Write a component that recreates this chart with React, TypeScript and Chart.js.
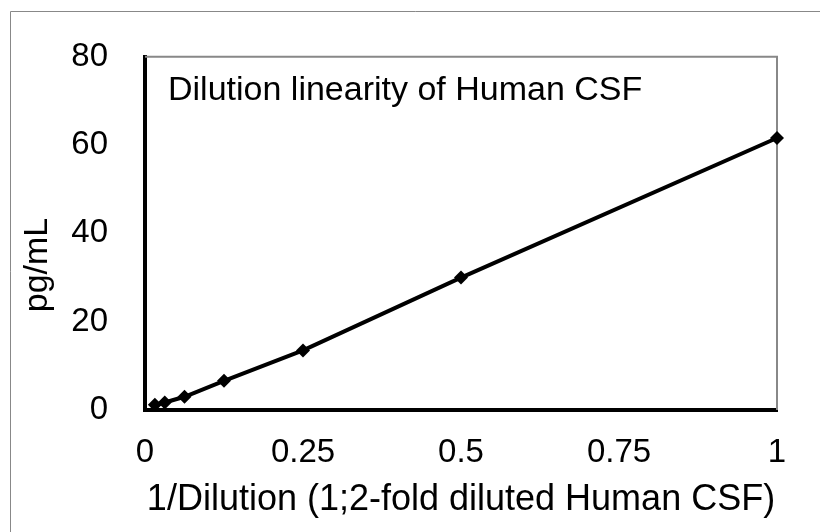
import React, { useEffect, useRef } from "react";
import { Chart, registerables } from "chart.js";

Chart.register(...registerables);

const dilutionX = [1, 0.5, 0.25, 0.125, 0.0625, 0.03125, 0.015625];
const measuredPgMl = [61.6, 30.0, 13.5, 6.6, 3.0, 1.7, 1.2];
const xTickValues = [0, 0.25, 0.5, 0.75, 1];
const yTickValues = [0, 20, 40, 60, 80];
const chartTitle = "Dilution linearity of Human CSF";
const xAxisTitle = "1/Dilution (1;2-fold diluted Human CSF)";
const yAxisTitle = "pg/mL";

const FONT = "'Liberation Sans', Arial, sans-serif";
const TICK_FS = 33;

const framePlugin = {
  id: "frame",
  beforeDatasetsDraw(chart: any) {
    const { ctx, chartArea } = chart;
    ctx.save();
    // outer chart frame (left & top visible)
    ctx.strokeStyle = "#888888";
    ctx.lineWidth = 1;
    ctx.beginPath();
    ctx.moveTo(10.5, 532);
    ctx.lineTo(10.5, 11.5);
    ctx.lineTo(820, 11.5);
    ctx.stroke();
    // plot area top/right border
    ctx.lineWidth = 2;
    ctx.beginPath();
    ctx.moveTo(chartArea.left, chartArea.top);
    ctx.lineTo(chartArea.right, chartArea.top);
    ctx.lineTo(chartArea.right, chartArea.bottom);
    ctx.stroke();
    // inner title
    ctx.fillStyle = "#000";
    ctx.font = `34px ${FONT}`;
    ctx.textAlign = "left";
    ctx.textBaseline = "alphabetic";
    ctx.fillText(chartTitle, chartArea.left + 23, 100);
    // y axis title
    ctx.font = `34px ${FONT}`;
    ctx.translate(47, 265);
    ctx.rotate(-Math.PI / 2);
    ctx.textAlign = "center";
    ctx.fillText(yAxisTitle, 0, 0);
    ctx.restore();
  },
};

export default function App() {
  const ref = useRef<HTMLCanvasElement | null>(null);
  useEffect(() => {
    if (!ref.current) return;
    const chart = new Chart(ref.current, {
      type: "line",
      data: {
        datasets: [
          {
            data: dilutionX.map((x, i) => ({ x, y: measuredPgMl[i] })),
            borderColor: "#000",
            backgroundColor: "#000",
            borderWidth: 4,
            pointStyle: "rectRot",
            pointRadius: 7,
            pointBorderWidth: 0,
            pointBackgroundColor: "#000",
            tension: 0,
            clip: false as any,
          },
        ],
      },
      options: {
        animation: false,
        responsive: false,
        devicePixelRatio: 1,
        events: [],
        layout: { padding: { top: 52, right: 43, left: 0, bottom: 0 } },
        plugins: { legend: { display: false }, tooltip: { enabled: false } },
        scales: {
          x: {
            type: "linear",
            min: 0,
            max: 1,
            afterBuildTicks: (s: any) => {
              s.ticks = xTickValues.map((v) => ({ value: v }));
            },
            afterFit: (s: any) => {
              s.height = 122;
            },
            grid: { display: false, drawTicks: false },
            border: { display: true, color: "#000", width: 4 },
            ticks: {
              color: "#000",
              font: { family: FONT, size: TICK_FS },
              padding: 23,
              maxRotation: 0,
              autoSkip: false,
              callback: (v: any) => String(v),
            },
            title: {
              display: true,
              text: xAxisTitle,
              color: "#000",
              font: { family: FONT, size: 36 },
              padding: { top: 0, bottom: 10 },
            },
          },
          y: {
            type: "linear",
            min: 0,
            max: 80,
            afterBuildTicks: (s: any) => {
              s.ticks = yTickValues.map((v) => ({ value: v }));
            },
            afterFit: (s: any) => {
              s.width = 145;
            },
            grid: { display: false, drawTicks: false },
            border: { display: true, color: "#000", width: 4 },
            ticks: {
              color: "#000",
              font: { family: FONT, size: TICK_FS },
              padding: 37,
              callback: (v: any) => String(v),
            },
          },
        },
      },
      plugins: [framePlugin],
    });
    return () => chart.destroy();
  }, []);
  return (
    <div style={{ position: "absolute", left: 0, top: 0, width: 820, height: 532, background: "#fff" }}>
      <canvas ref={ref} width={820} height={532} />
    </div>
  );
}
